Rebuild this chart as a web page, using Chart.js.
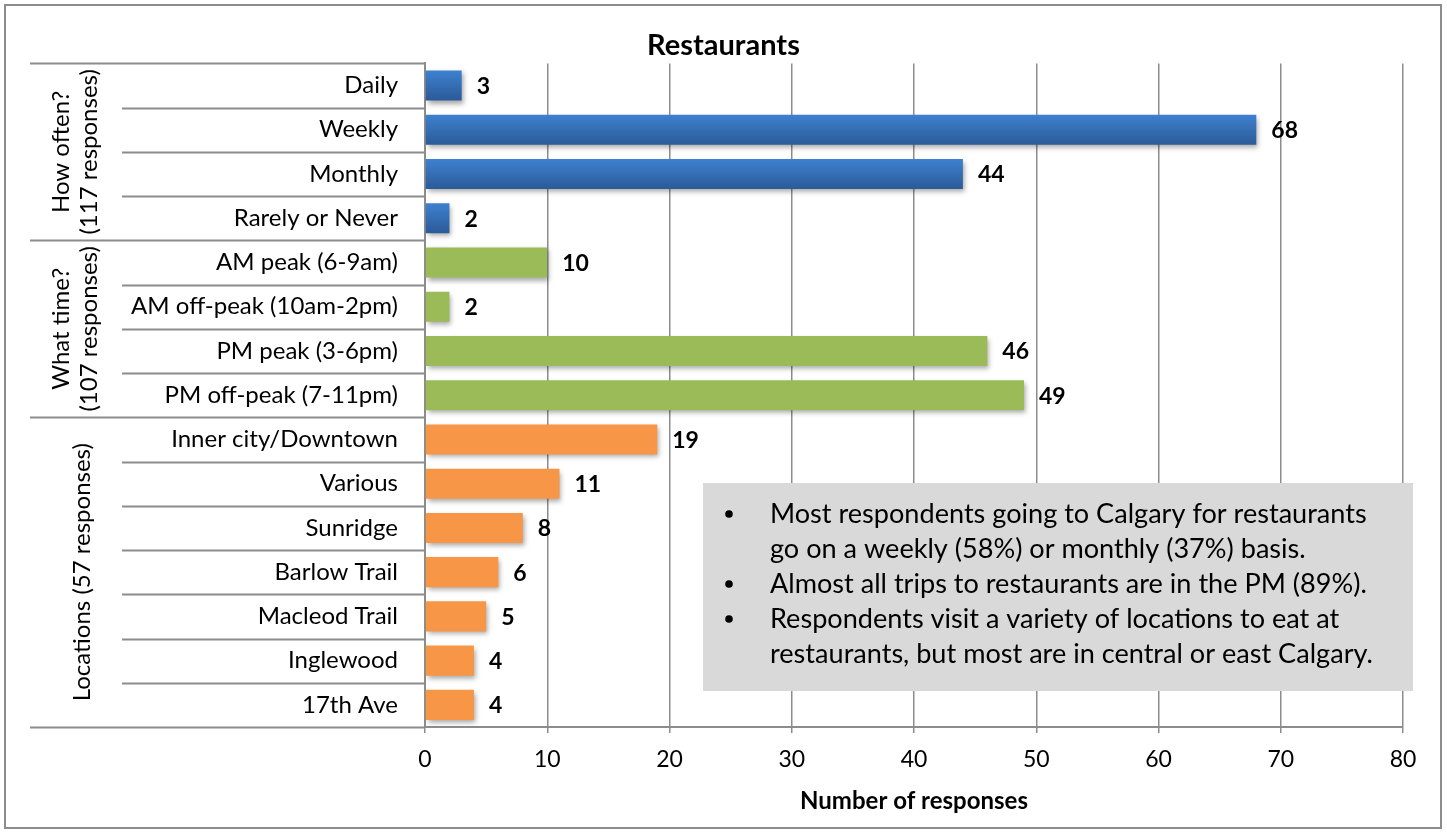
<!DOCTYPE html>
<html>
<head>
<meta charset="utf-8">
<script src="https://cdn.jsdelivr.net/npm/chart.js@4.4.1/dist/chart.umd.min.js"></script>
<style>
  body { margin: 0; background: #fff; }
  #wrap { width: 1447px; height: 833px; position: relative; }
</style>
</head>
<body>
<div id="wrap"><canvas id="chart"></canvas></div>
<script>
const categories = [
  'Daily', 'Weekly', 'Monthly', 'Rarely or Never',
  'AM peak (6-9am)', 'AM off-peak (10am-2pm)', 'PM peak (3-6pm)', 'PM off-peak (7-11pm)',
  'Inner city/Downtown', 'Various', 'Sunridge', 'Barlow Trail', 'Macleod Trail', 'Inglewood', '17th Ave'
];
const responses = [3, 68, 44, 2, 10, 2, 46, 49, 19, 11, 8, 6, 5, 4, 4];
const groupOf = [0, 0, 0, 0, 1, 1, 1, 1, 2, 2, 2, 2, 2, 2, 2];
const groupNames = [
  ['How often?', '(117 responses)'],
  ['What time?', '(107 responses)'],
  ['Locations (57 responses)']
];
const xTicks = [0, 10, 20, 30, 40, 50, 60, 70, 80];
const notes = [
  ['Most respondents going to Calgary for restaurants', 'go on a weekly (58%) or monthly (37%) basis.'],
  ['Almost all trips to restaurants are in the PM (89%).'],
  ['Respondents visit a variety of locations to eat at', 'restaurants, but most are in central or east Calgary.']
];

const FONT = 'Lato, "Open Sans", sans-serif';
const groupColors = ['#3a78c4', '#9bbb59', '#f79646'];
const lineGray = '#8c8c8c';

// blue bars get the old Excel-style vertical gradient
function barColor(c) {
  const g = groupOf[c.dataIndex];
  if (g !== 0) return groupColors[g];
  const y = c.chart.scales.y;
  if (!y) return groupColors[0];
  const cy = y.getPixelForValue(c.dataIndex);
  if (!isFinite(cy)) return groupColors[0];
  const grad = c.chart.ctx.createLinearGradient(0, cy - 15, 0, cy + 15);
  grad.addColorStop(0, '#3e81d0');
  grad.addColorStop(1, '#2b5a98');
  return grad;
}

const extras = {
  id: 'extras',
  beforeDatasetsDraw(chart) {
    const ctx = chart.ctx;
    ctx.save();
    ctx.shadowColor = 'rgba(0,0,0,0.35)';
    ctx.shadowBlur = 5;
    ctx.shadowOffsetX = 2;
    ctx.shadowOffsetY = 3;
  },
  afterDatasetsDraw(chart) {
    const ctx = chart.ctx;
    ctx.restore();
    const meta = chart.getDatasetMeta(0);
    ctx.save();
    ctx.font = 'bold 23px ' + FONT;
    ctx.fillStyle = '#000';
    ctx.textAlign = 'left';
    ctx.textBaseline = 'middle';
    meta.data.forEach((bar, i) => {
      ctx.fillText(String(responses[i]), bar.x + 15, bar.y + 1);
    });
    ctx.restore();
  },
  afterDraw(chart) {
    const ctx = chart.ctx;
    const area = chart.chartArea;
    const n = categories.length;
    const step = (area.bottom - area.top) / n;
    ctx.save();

    // separators in the label column
    ctx.strokeStyle = lineGray;
    ctx.lineWidth = 2;
    for (let i = 0; i <= n; i++) {
      const y = Math.round(area.top + i * step) + 0.5;
      const isGroup = i === 0 || i === n || groupOf[i] !== groupOf[i - 1];
      ctx.beginPath();
      ctx.moveTo(isGroup ? 30 : 122, y);
      ctx.lineTo(area.left, y);
      ctx.stroke();
    }

    // rotated group labels
    ctx.fillStyle = '#000';
    ctx.font = '24px ' + FONT;
    ctx.textAlign = 'center';
    ctx.textBaseline = 'middle';
    groupNames.forEach((lines, g) => {
      const first = groupOf.indexOf(g);
      const last = groupOf.lastIndexOf(g);
      const cy = area.top + (first + last + 1) / 2 * step;
      const xs = lines.length === 2 ? [61, 89] : [82];
      lines.forEach((t, k) => {
        ctx.save();
        ctx.translate(xs[k], cy);
        ctx.rotate(-Math.PI / 2);
        ctx.fillText(t, 0, 0);
        ctx.restore();
      });
    });

    // notes box
    const bx = 703, by = 483, bw = 710, bh = 208;
    ctx.fillStyle = '#d9d9d9';
    ctx.fillRect(bx, by, bw, bh);
    let size = 24;
    ctx.font = size + 'px ' + FONT;
    let widest = 0;
    notes.flat().forEach(t => { widest = Math.max(widest, ctx.measureText(t).width); });
    size = size * 603 / widest;
    ctx.font = size.toFixed(2) + 'px ' + FONT;
    ctx.fillStyle = '#000';
    ctx.textAlign = 'left';
    ctx.textBaseline = 'middle';
    let ly = 514;
    notes.forEach(bullet => {
      ctx.beginPath();
      ctx.arc(729, ly, 3.8, 0, Math.PI * 2);
      ctx.fill();
      bullet.forEach(t => {
        ctx.fillText(t, 770, ly);
        ly += 35;
      });
    });

    // outer frame
    ctx.strokeStyle = lineGray;
    ctx.lineWidth = 2;
    ctx.strokeRect(5, 5, 1436, 823);
    ctx.restore();
  }
};

new Chart(document.getElementById('chart'), {
  type: 'bar',
  data: {
    labels: categories,
    datasets: [{
      data: responses,
      backgroundColor: barColor,
      borderWidth: 0,
      barPercentage: 0.68,
      categoryPercentage: 1
    }]
  },
  options: {
    indexAxis: 'y',
    responsive: true,
    maintainAspectRatio: false,
    animation: false,
    devicePixelRatio: 1,
    layout: { padding: { left: 44, right: 44, top: 0, bottom: 0 } },
    plugins: {
      legend: { display: false },
      tooltip: { enabled: false },
      title: {
        display: true,
        text: 'Restaurants',
        color: '#000',
        font: { family: FONT, size: 29, weight: 'bold' },
        padding: { top: 28.6, bottom: 0 }
      }
    },
    scales: {
      x: {
        min: 0,
        max: 80,
        afterBuildTicks: s => { s.ticks = xTicks.map(v => ({ value: v })); },
        afterFit: s => { s.height = 106; },
        ticks: { color: '#000', font: { family: FONT, size: 23 }, padding: 13 },
        grid: { color: lineGray, lineWidth: 1.5, tickLength: 6 },
        border: { display: true, color: lineGray, width: 2 },
        title: {
          display: true,
          text: 'Number of responses',
          color: '#000',
          font: { family: FONT, size: 24, weight: 'bold' },
          padding: { top: 4, bottom: 17.6 }
        }
      },
      y: {
        afterFit: s => { s.width = 381; },
        ticks: { color: '#000', font: { family: FONT, size: 24 }, padding: 27, autoSkip: false },
        grid: { drawOnChartArea: false, drawTicks: false },
        border: { display: true, color: lineGray, width: 2 }
      }
    }
  },
  plugins: [extras]
});
</script>
</body>
</html>
